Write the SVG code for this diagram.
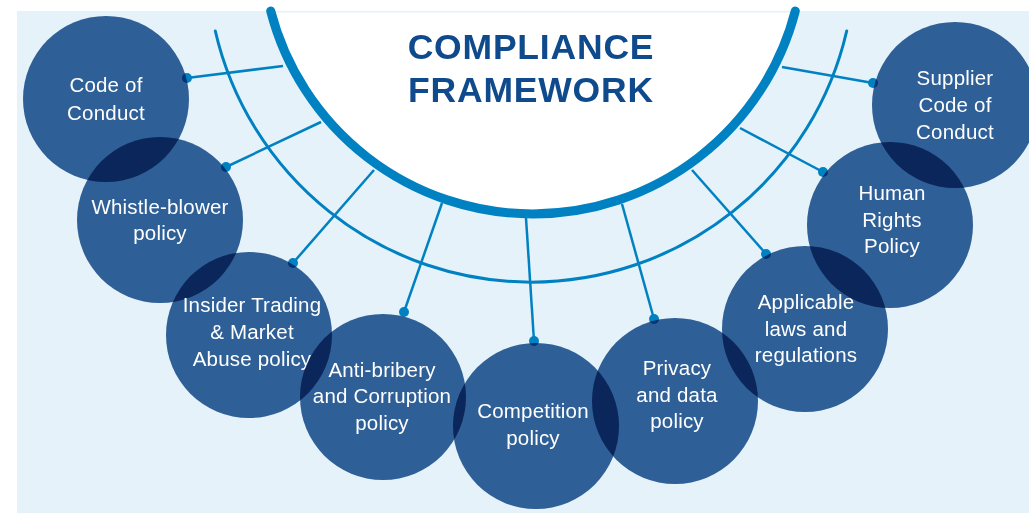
<svg xmlns="http://www.w3.org/2000/svg" width="1029" height="513" viewBox="0 0 1029 513">
<style>
.bg{fill:#e5f2f9}
.arc{fill:none;stroke:#0081c2;stroke-linecap:round}
.conn line{stroke:#0081c2;stroke-width:2.5}
.conn circle{fill:#0081c2}
.node circle{fill:#33649a;mix-blend-mode:multiply}
.node text{font-family:"Liberation Sans",Arial,sans-serif;font-size:20.5px;letter-spacing:0.2px;fill:#ffffff;text-anchor:middle}
.title{font-family:"Liberation Sans",Arial,sans-serif;font-size:35.5px;font-weight:bold;letter-spacing:0.8px;fill:#0f4a8c;text-anchor:middle}
</style>
<rect x="0" y="0" width="1029" height="513" fill="#ffffff"/>
<rect class="bg" x="17" y="11" width="1012" height="502"/>
<path d="M270.7,12.5 A271,271 0 0 0 795.3,12.5 Z" fill="#ffffff"/>
<path class="arc" d="M215.3,31 A324,324 0 0 0 846.7,31" stroke-width="3"/>
<g id="connectors" class="conn">
<line x1="283" y1="66" x2="187" y2="78"/>
<line x1="321" y1="122" x2="226" y2="167"/>
<line x1="374" y1="170" x2="293" y2="263"/>
<line x1="442" y1="203" x2="404" y2="312"/>
<line x1="526" y1="218" x2="534" y2="341"/>
<line x1="622" y1="204" x2="654" y2="319"/>
<line x1="692" y1="170" x2="766" y2="254"/>
<line x1="740" y1="128" x2="823" y2="172"/>
<line x1="782" y1="67" x2="873" y2="83"/>
<circle cx="187" cy="78" r="5"/>
<circle cx="226" cy="167" r="5"/>
<circle cx="293" cy="263" r="5"/>
<circle cx="404" cy="312" r="5"/>
<circle cx="534" cy="341" r="5"/>
<circle cx="654" cy="319" r="5"/>
<circle cx="766" cy="254" r="5"/>
<circle cx="823" cy="172" r="5"/>
<circle cx="873" cy="83" r="5"/>
</g>
<path class="arc" d="M270.7,11 A271,271 0 0 0 795.3,11" stroke-width="9"/>
<g id="title">
<text class="title" x="531" y="59">COMPLIANCE</text>
<text class="title" x="531" y="102">FRAMEWORK</text>
</g>
<g id="nodes">
<g id="node-code-of-conduct" class="node"><circle cx="106" cy="99" r="83"/><text><tspan x="106" y="92">Code of</tspan><tspan x="106" y="120">Conduct</tspan></text></g>
<g id="node-whistle-blower" class="node"><circle cx="160" cy="220" r="83"/><text><tspan x="160" y="214">Whistle-blower</tspan><tspan x="160" y="240">policy</tspan></text></g>
<g id="node-insider-trading" class="node"><circle cx="249" cy="335" r="83"/><text><tspan x="252" y="312">Insider Trading</tspan><tspan x="252" y="339">&amp; Market</tspan><tspan x="252" y="366">Abuse policy</tspan></text></g>
<g id="node-anti-bribery" class="node"><circle cx="383" cy="397" r="83"/><text><tspan x="382" y="377">Anti-bribery</tspan><tspan x="382" y="403">and Corruption</tspan><tspan x="382" y="430">policy</tspan></text></g>
<g id="node-competition" class="node"><circle cx="536" cy="426" r="83"/><text><tspan x="533" y="418">Competition</tspan><tspan x="533" y="445">policy</tspan></text></g>
<g id="node-privacy" class="node"><circle cx="675" cy="401" r="83"/><text><tspan x="677" y="375">Privacy</tspan><tspan x="677" y="402">and data</tspan><tspan x="677" y="428">policy</tspan></text></g>
<g id="node-applicable-laws" class="node"><circle cx="805" cy="329" r="83"/><text><tspan x="806" y="309">Applicable</tspan><tspan x="806" y="336">laws and</tspan><tspan x="806" y="362">regulations</tspan></text></g>
<g id="node-human-rights" class="node"><circle cx="890" cy="225" r="83"/><text><tspan x="892" y="200">Human</tspan><tspan x="892" y="227">Rights</tspan><tspan x="892" y="253">Policy</tspan></text></g>
<g id="node-supplier-code" class="node"><circle cx="955" cy="105" r="83"/><text><tspan x="955" y="85">Supplier</tspan><tspan x="955" y="112">Code of</tspan><tspan x="955" y="139">Conduct</tspan></text></g>
</g>
</svg>
